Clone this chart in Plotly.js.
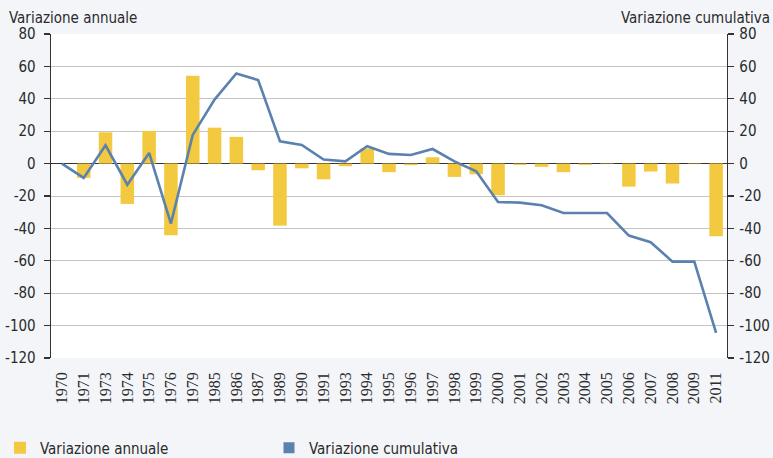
<!DOCTYPE html>
<html>
<head>
<meta charset="utf-8">
<script src="https://cdn.plot.ly/plotly-3.0.1.min.js"></script>
<style>html,body{margin:0;padding:0;background:#fff;}#chart{width:773px;height:458px;}</style>
</head>
<body>
<div id="chart"></div>
<script>
var years = ["1970","1971","1973","1974","1975","1976","1979","1985","1986","1987","1989","1990","1991","1993","1994","1995","1996","1997","1998","1999","2000","2001","2002","2003","2004","2005","2006","2007","2008","2009","2011"];
var annualChange = [0,-8.8,19.3,-24.9,20.2,-44.2,54.3,22.2,16.5,-4.1,-38.3,-2.9,-9.7,-1.6,9.3,-5.3,-1,3.9,-8.2,-6.6,-19.5,-0.8,-2,-5.3,-0.8,-0.3,-14.2,-4.9,-12.3,-0.3,-44.9];
var cumulativeChange = [0,-8.8,11.3,-13,6.6,-37,17.7,39.5,55.6,51.6,13.8,11.5,2.5,1.4,10.7,6,5.3,9,1.4,-4.7,-23.7,-24.1,-25.7,-30.5,-30.5,-30.5,-44.4,-48.5,-60.5,-60.5,-104.5];
var yTicks = [80,60,40,20,0,-20,-40,-60,-80,-100,-120];
var seriesNames = ["Variazione annuale","Variazione cumulativa"];

var narrow = "'DejaVu Sans Condensed', 'Liberation Sans Narrow', sans-serif";
var yellow = "#F3C93F";
var blue = "#5B81AF";

var traces = [
  {type:"bar", x:years, y:annualChange, name:seriesNames[0], marker:{color:yellow}, width:0.62, yaxis:"y"},
  {type:"scatter", mode:"lines", x:years, y:cumulativeChange, name:seriesNames[1], line:{color:blue, width:2.6}, yaxis:"y2", showlegend:false},
  {type:"scatter", mode:"markers", x:[null], y:[null], name:seriesNames[1], marker:{color:blue, symbol:"square", size:11}, yaxis:"y2", showlegend:true}
];

var yCommon = {
  range:[-120,80], tickvals:yTicks, ticktext:yTicks.map(String),
  ticks:"outside", ticklen:6, tickcolor:"#333", tickwidth:1.2,
  showline:true, linecolor:"#333", linewidth:1.3,
  tickfont:{family:narrow, size:15, color:"#2a2a2a"},
  fixedrange:true
};

var layout = {
  width:773, height:458,
  margin:{l:51, r:46, t:34, b:100},
  paper_bgcolor:"#f3f5f9", plot_bgcolor:"#ffffff",
  xaxis:{type:"category", range:[-0.5, 30.5], tickangle:-90, ticks:"", showgrid:false, ticklabelstandoff:10,
    tickfont:{family:"'Liberation Serif', 'DejaVu Serif', serif", size:16, color:"#2a2a2a"}, showline:false, zeroline:false},
  yaxis:Object.assign({}, yCommon, {side:"left", ticklabelstandoff:5, showgrid:true, gridcolor:"#c4c4c4", gridwidth:1, zeroline:true, zerolinecolor:"#333", zerolinewidth:1.3}),
  yaxis2:Object.assign({}, yCommon, {side:"right", ticklabelstandoff:2, overlaying:"y", showgrid:false, zeroline:false}),
  showlegend:true,
  legend:{orientation:"h", xref:"container", yref:"container", x:-0.012, y:0.022, xanchor:"left", yanchor:"middle",
    font:{family:narrow, size:15, color:"#2a2a2a"}, bgcolor:"rgba(0,0,0,0)", entrywidth:224, entrywidthmode:"pixels", traceorder:"normal"},
  annotations:[
    {text:"Variazione annuale", xref:"paper", yref:"paper", x:-0.065, y:1.0, xanchor:"left", yanchor:"bottom", yshift:5, showarrow:false, font:{family:narrow, size:15, color:"#2a2a2a"}},
    {text:"Variazione cumulativa", xref:"paper", yref:"paper", x:1.066, y:1.0, xanchor:"right", yanchor:"bottom", yshift:5, showarrow:false, font:{family:narrow, size:15, color:"#2a2a2a"}}
  ]
};

Plotly.newPlot("chart", traces, layout, {displayModeBar:false, staticPlot:true});
</script>
</body>
</html>
